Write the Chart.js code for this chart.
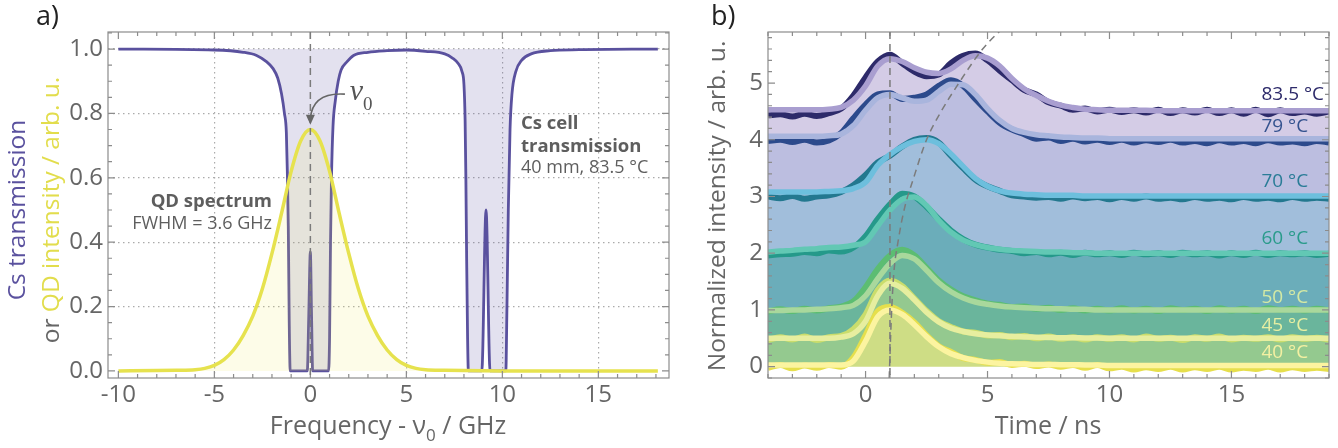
<!DOCTYPE html>
<html>
<head>
<meta charset="utf-8">
<script src="https://cdn.jsdelivr.net/npm/chart.js@4.4.1/dist/chart.umd.min.js"></script>
<style>
  body { margin: 0; background: #fff; width: 1338px; height: 448px; overflow: hidden; }
  #panelA { position: absolute; left: 0; top: 0; }
  #panelB { position: absolute; left: 680px; top: 0; }
</style>
</head>
<body>
<canvas id="panelA" width="680" height="448"></canvas>
<canvas id="panelB" width="658" height="448"></canvas>
<script>
// ---- panel a) : Cs cell transmission and QD spectrum ----
const csFreq = [-10, -5, -3.5, -2.8, -2.27, -1.95, -1.7, -1.5, -1.35, -1.25,
  -1.2, -1.15, -1.1, -1.05, -0.16, -0.08, 0, 0.06, 0.12, 0.95,
  1.0, 1.05, 1.1, 1.18, 1.3, 1.45, 1.6, 1.9, 2.25, 3,
  4, 5, 6, 7, 7.4, 7.7, 7.9, 8.0, 8.06, 8.1,
  8.14, 8.19, 8.23, 8.93, 9.15, 9.36, 10.18, 10.24, 10.31, 10.4,
  10.5, 10.7, 11, 11.5, 12.5, 14, 18.1];
const csTrans = [1.0, 0.997, 0.99, 0.98, 0.96, 0.94, 0.91, 0.86, 0.8, 0.74,
  0.62, 0.45, 0.15, 0, 0, 0.18, 0.37, 0.18, 0, 0,
  0.1, 0.4, 0.6, 0.76, 0.84, 0.9, 0.935, 0.96, 0.98, 0.99,
  0.995, 0.997, 0.993, 0.985, 0.972, 0.955, 0.93, 0.89, 0.78, 0.6,
  0.35, 0.1, 0, 0, 0.5, 0, 0, 0.2, 0.5, 0.75,
  0.86, 0.93, 0.965, 0.985, 0.995, 0.998, 1.0];
const qdFreq = [-10, -8, -7, -6, -5.5, -5, -4.5, -4, -3.5, -3, -2.5, -2, -1.5, -1, -0.5, 0,
  0.5, 1, 1.5, 2, 2.5, 3, 3.5, 4, 4.5, 5, 5.5, 6, 7, 8, 10, 14, 18.1];
const qdIntensity = [0, 0.001, 0.002, 0.004, 0.008, 0.017, 0.035, 0.065, 0.11, 0.17, 0.255, 0.365, 0.49, 0.62, 0.715, 0.75,
  0.715, 0.62, 0.49, 0.365, 0.255, 0.17, 0.11, 0.065, 0.035, 0.017, 0.008, 0.004, 0.002, 0.001, 0, 0, 0];
const freqTicks = [-10, -5, 0, 5, 10, 15];
const transTicks = [0, 0.2, 0.4, 0.6, 0.8, 1.0];
const nu0 = 0;

// ---- panel b) : time traces, offset per cell temperature ----
const timeNs = [-4, -3.5, -3, -2.5, -2, -1.5, -1, -0.5, 0, 0.5, 1, 1.5, 2, 2.5, 3, 3.5,
  4, 4.5, 5, 5.5, 6, 6.5, 7, 7.5, 8, 8.5, 9, 9.5, 10, 10.5, 11, 11.5,
  12, 12.5, 13, 13.5, 14, 14.5, 15, 15.5, 16, 16.5, 17, 17.5, 18, 18.5, 19];
const tempLabels = ['40 °C', '45 °C', '50 °C', '60 °C', '70 °C', '79 °C', '83.5 °C'];

const fit40 = [0.03, 0.03, 0.03, 0.03, 0.03, 0.03, 0.03, 0.1, 0.45, 0.88, 1.0, 0.92, 0.74, 0.53, 0.35, 0.23,
  0.16, 0.11, 0.08, 0.06, 0.05, 0.045, 0.04, 0.04, 0.035, 0.035, 0.03, 0.03, 0.02, 0.02, 0.02, 0.02,
  0.02, 0.02, 0.02, 0.02, 0.02, 0.02, 0.02, 0.02, 0.02, 0.02, 0.02, 0.02, 0.02, 0.02, 0.02];
const fit45 = [0.5, 0.5, 0.5, 0.5, 0.5, 0.5, 0.52, 0.58, 0.8, 1.25, 1.47, 1.38, 1.18, 0.96, 0.79, 0.68,
  0.62, 0.58, 0.56, 0.545, 0.535, 0.525, 0.52, 0.515, 0.51, 0.51, 0.505, 0.505, 0.5, 0.5, 0.5, 0.5,
  0.5, 0.5, 0.5, 0.5, 0.5, 0.5, 0.5, 0.5, 0.5, 0.5, 0.5, 0.5, 0.5, 0.5, 0.5];
const fit50 = [0.99, 0.99, 1.0, 1.0, 1.01, 1.02, 1.04, 1.08, 1.25, 1.55, 1.82, 1.96, 1.9, 1.7, 1.48, 1.32,
  1.21, 1.14, 1.1, 1.07, 1.05, 1.04, 1.03, 1.02, 1.02, 1.01, 1.01, 1.0, 1.0, 1.0, 1.0, 1.0,
  1.0, 1.0, 1.0, 1.0, 1.0, 1.0, 1.0, 1.0, 1.0, 1.0, 1.0, 1.0, 1.0, 1.0, 1.0];
const fit60 = [2.02, 2.04, 2.05, 2.07, 2.08, 2.1, 2.11, 2.14, 2.2, 2.48, 2.76, 2.95, 2.99, 2.84, 2.58, 2.37,
  2.23, 2.15, 2.1, 2.07, 2.05, 2.04, 2.03, 2.02, 2.02, 2.01, 2.01, 2.0, 2.0, 2.0, 2.0, 2.0,
  2.0, 2.0, 2.0, 2.0, 2.0, 2.0, 2.0, 2.0, 2.0, 2.0, 2.0, 2.0, 2.0, 2.0, 2.0];
const fit70 = [3.08, 3.08, 3.08, 3.08, 3.08, 3.09, 3.1, 3.14, 3.25, 3.55, 3.74, 3.88, 3.97, 4.0, 3.93, 3.75,
  3.53, 3.32, 3.18, 3.1, 3.06, 3.04, 3.03, 3.02, 3.02, 3.02, 3.01, 3.01, 3.01, 3.01, 3.01, 3.01,
  3.01, 3.01, 3.01, 3.01, 3.01, 3.01, 3.01, 3.01, 3.01, 3.01, 3.01, 3.01, 3.01, 3.01, 3.01];
const fit79 = [4.06, 4.06, 4.06, 4.06, 4.06, 4.07, 4.1, 4.25, 4.52, 4.74, 4.8, 4.74, 4.68, 4.7, 4.85, 4.98,
  4.97, 4.8, 4.55, 4.34, 4.2, 4.13, 4.09, 4.07, 4.05, 4.04, 4.03, 4.03, 4.02, 4.02, 4.02, 4.02,
  4.02, 4.02, 4.02, 4.02, 4.02, 4.02, 4.02, 4.02, 4.02, 4.02, 4.02, 4.02, 4.02, 4.02, 4.02];
const fit835 = [4.53, 4.53, 4.53, 4.53, 4.53, 4.54, 4.57, 4.7, 4.95, 5.3, 5.43, 5.38, 5.27, 5.19, 5.17, 5.25,
  5.4, 5.48, 5.44, 5.3, 5.08, 4.9, 4.78, 4.68, 4.61, 4.57, 4.54, 4.53, 4.52, 4.52, 4.52, 4.52,
  4.51, 4.51, 4.51, 4.51, 4.51, 4.51, 4.51, 4.51, 4.51, 4.51, 4.51, 4.51, 4.51, 4.51, 4.51];

const data40 = [-0.02, 0.03, -0.03, 0.02, -0.02, 0.03, 0.0, 0.16, 0.55, 0.98, 1.05, 0.95, 0.78, 0.55, 0.36, 0.26,
  0.15, 0.12, 0.07, 0.08, 0.03, 0.05, 0.01, 0.04, 0.0, 0.03, -0.02, 0.03, -0.03, 0.0, -0.05, -0.01,
  -0.04, 0.0, -0.05, -0.01, -0.04, 0.0, -0.05, -0.02, -0.04, 0.0, -0.05, -0.01, -0.04, -0.02, -0.04];
const data45 = [0.47, 0.52, 0.48, 0.53, 0.47, 0.52, 0.54, 0.66, 0.92, 1.35, 1.52, 1.42, 1.2, 0.98, 0.8, 0.7,
  0.62, 0.6, 0.55, 0.56, 0.52, 0.54, 0.5, 0.53, 0.49, 0.52, 0.48, 0.52, 0.49, 0.52, 0.48, 0.53,
  0.49, 0.51, 0.47, 0.52, 0.49, 0.53, 0.48, 0.51, 0.49, 0.52, 0.48, 0.52, 0.49, 0.51, 0.48];
const data50 = [0.97, 1.01, 0.98, 1.02, 0.99, 1.03, 1.06, 1.15, 1.4, 1.72, 1.96, 2.06, 1.96, 1.74, 1.52, 1.36,
  1.24, 1.17, 1.11, 1.09, 1.05, 1.06, 1.02, 1.04, 1.0, 1.03, 0.99, 1.02, 0.99, 1.03, 0.99, 1.02,
  0.98, 1.03, 1.0, 1.02, 0.98, 1.03, 0.99, 1.02, 0.98, 1.03, 1.0, 1.02, 0.99, 1.02, 0.99];
const data60 = [1.96, 1.98, 1.99, 2.02, 2.0, 2.05, 2.03, 2.1, 2.3, 2.6, 2.86, 3.05, 3.0, 2.82, 2.6, 2.4,
  2.25, 2.15, 2.1, 2.06, 2.04, 2.0, 2.02, 1.98, 2.01, 1.97, 2.01, 1.98, 2.0, 1.97, 2.01, 1.98,
  2.0, 1.97, 2.01, 1.98, 2.0, 1.96, 2.0, 1.97, 2.01, 1.97, 2.0, 1.98, 2.0, 1.97, 1.99];
const data70 = [3.0, 2.97, 3.01, 2.96, 3.0, 3.02, 3.08, 3.2, 3.38, 3.6, 3.72, 3.88, 4.0, 4.03, 3.95, 3.72,
  3.5, 3.3, 3.18, 3.1, 3.02, 3.0, 2.98, 2.99, 2.96, 3.0, 2.97, 2.99, 2.95, 2.99, 2.96, 3.0,
  2.96, 2.98, 2.95, 2.99, 2.96, 2.98, 2.95, 2.99, 2.96, 2.98, 2.95, 2.99, 2.96, 2.98, 2.96];
const data79 = [3.98, 4.0, 3.96, 4.0, 3.95, 3.99, 4.12, 4.38, 4.62, 4.8, 4.82, 4.72, 4.74, 4.8, 4.95, 5.05,
  4.95, 4.72, 4.5, 4.3, 4.18, 4.1, 4.02, 4.04, 3.98, 4.02, 3.97, 4.0, 3.96, 4.0, 3.95, 3.99,
  3.96, 4.0, 3.95, 3.98, 3.94, 3.99, 3.95, 3.98, 3.94, 3.99, 3.95, 3.97, 3.94, 3.98, 3.95];
const data835 = [4.43, 4.45, 4.41, 4.46, 4.42, 4.47, 4.55, 4.78, 5.1, 5.38, 5.5, 5.35, 5.2, 5.12, 5.15, 5.35,
  5.48, 5.52, 5.4, 5.22, 5.05, 4.88, 4.8, 4.66, 4.6, 4.53, 4.55, 4.5, 4.53, 4.49, 4.52, 4.48,
  4.53, 4.47, 4.52, 4.48, 4.53, 4.47, 4.52, 4.46, 4.53, 4.45, 4.52, 4.47, 4.5, 4.46, 4.5];

// dashed guide through the shifted maxima
const shiftTime = [0.97, 1.05, 1.15, 1.35, 1.6, 1.95, 2.5, 3.1, 3.75, 4.8, 5.7];
const shiftLevel = [-0.2, 0.8, 1.6, 2.25, 2.8, 3.3, 4.0, 4.5, 4.95, 5.6, 6.0];
const timeTicks = [0, 5, 10, 15];
const intensityTicks = [0, 1, 2, 3, 4, 5];
const pulseTime = 1.0;

const fits = [fit40, fit45, fit50, fit60, fit70, fit79, fit835];
const measured = [data40, data45, data50, data60, data70, data79, data835];

const fitColors = ['#fcf4a0', '#e7ee9f', '#a9d89c', '#62c8b4', '#6dbfdd', '#a9b5dd', '#a99ed0'];
const dataColors = ['#e6df4c', '#cadd6c', '#5cbd72', '#25998a', '#23788f', '#2c4a8c', '#2d2a6a'];
const bandColors = ['#cedd85', '#94c98f', '#6ab59c', '#6badba', '#a1bedb', '#bcbee0', '#d4cce6'];
const labelColors = ['#f4f0a2', '#e6efa2', '#d4e9a4', '#2a9b8b', '#2a7c97', '#35538f', '#2d2a6a'];

Chart.defaults.font.family = "'Open Sans', sans-serif";
Chart.defaults.color = '#666';

const GREY = '#666';
const hidden = 'rgba(0,0,0,0)';

function runsText(ctx, runs, x, y, align) {
  // runs: [text, font, color, dy]
  let w = 0;
  runs.forEach(r => { ctx.font = r[1]; w += ctx.measureText(r[0]).width; });
  let cx = align === 'center' ? x - w / 2 : align === 'right' ? x - w : x;
  ctx.textAlign = 'left';
  runs.forEach(r => {
    ctx.font = r[1]; ctx.fillStyle = r[2];
    ctx.fillText(r[0], cx, y + (r[3] || 0));
    cx += ctx.measureText(r[0]).width;
  });
}

// box frame with inward ticks on all four sides
const frameTicks = {
  id: 'frameTicks',
  afterDatasetsDraw(chart, args, opts) {
    const { ctx, chartArea: a, scales: { x, y } } = chart;
    ctx.save();
    ctx.strokeStyle = '#8c8c8c';
    ctx.lineWidth = 1.2;
    ctx.strokeRect(a.left, a.top, a.right - a.left, a.bottom - a.top);
    ctx.beginPath();
    const walk = (scale, minor, major, fn) => {
      let k = Math.ceil(scale.min / minor - 1e-6);
      for (; k * minor <= scale.max + 1e-9; k++) {
        const v = k * minor;
        const isMajor = Math.abs(v / major - Math.round(v / major)) < 1e-6;
        fn(scale.getPixelForValue(v), isMajor ? 7 : 4);
      }
    };
    walk(x, opts.xMinor, opts.xMajor, (p, l) => {
      ctx.moveTo(p, a.bottom); ctx.lineTo(p, a.bottom - l);
      ctx.moveTo(p, a.top); ctx.lineTo(p, a.top + l);
    });
    walk(y, opts.yMinor, opts.yMajor, (p, l) => {
      ctx.moveTo(a.left, p); ctx.lineTo(a.left + l, p);
      ctx.moveTo(a.right, p); ctx.lineTo(a.right - l, p);
    });
    ctx.stroke();
    ctx.restore();
  }
};

const annotA = {
  id: 'annotA',
  afterDatasetsDraw(chart) {
    const { ctx, chartArea: a, scales: { x, y } } = chart;
    ctx.save();
    // nu0 marker
    ctx.strokeStyle = '#7b7b7b';
    ctx.lineWidth = 1.5;
    ctx.setLineDash([7, 5]);
    ctx.beginPath();
    ctx.moveTo(x.getPixelForValue(nu0), a.top);
    ctx.lineTo(x.getPixelForValue(nu0), a.bottom);
    ctx.stroke();
    ctx.setLineDash([]);
    // curved arrow to the QD maximum
    const x0 = x.getPixelForValue(1.8), y0 = y.getPixelForValue(0.86);
    const x1 = x.getPixelForValue(nu0), y1 = y.getPixelForValue(0.765);
    ctx.strokeStyle = '#666';
    ctx.lineWidth = 1.6;
    ctx.beginPath();
    ctx.moveTo(x0, y0);
    ctx.quadraticCurveTo(x1 + 2, y0 - 2, x1, y1 - 6);
    ctx.stroke();
    ctx.fillStyle = '#666';
    ctx.beginPath();
    ctx.moveTo(x1, y1);
    ctx.lineTo(x1 - 4.5, y1 - 10);
    ctx.lineTo(x1 + 4.5, y1 - 10);
    ctx.closePath();
    ctx.fill();
    ctx.textBaseline = 'alphabetic';
    runsText(ctx, [['\u03bd', "italic 30px 'Liberation Serif'", '#555'],
                   ['0', "19px 'Liberation Serif'", '#555', 10]],
             x.getPixelForValue(2.05), y.getPixelForValue(0.842), 'left');
    // text labels
    const tx = x.getPixelForValue(-2.0);
    runsText(ctx, [['QD spectrum', "bold 18.5px 'Open Sans'", '#5e5e5e']], tx, y.getPixelForValue(0.51), 'right');
    runsText(ctx, [['FWHM = 3.6 GHz', "18px 'Open Sans'", '#5e5e5e']], tx, y.getPixelForValue(0.44), 'right');
    const cx = x.getPixelForValue(10.97);
    runsText(ctx, [['Cs cell', "bold 18.5px 'Open Sans'", '#5e5e5e']], cx, y.getPixelForValue(0.752), 'left');
    runsText(ctx, [['transmission', "bold 18.5px 'Open Sans'", '#5e5e5e']], cx, y.getPixelForValue(0.681), 'left');
    runsText(ctx, [['40 mm, 83.5 °C', "18px 'Open Sans'", '#5e5e5e']], cx, y.getPixelForValue(0.614), 'left');
    ctx.restore();
  },
  afterDraw(chart) {
    const { ctx } = chart;
    ctx.save();
    ctx.textBaseline = 'alphabetic';
    runsText(ctx, [['a)', "27px 'Open Sans'", '#222']], 36, 25, 'left');
    runsText(ctx, [['Frequency - \u03bd', "25px 'Open Sans'", GREY],
                   ['0', "17px 'Open Sans'", GREY, 7],
                   [' / GHz', "25px 'Open Sans'", GREY]], 388, 434, 'center');
    ctx.save();
    ctx.translate(18, 210); ctx.rotate(-Math.PI / 2);
    ctx.textBaseline = 'middle';
    runsText(ctx, [['Cs transmission', "24.5px 'Open Sans'", '#5a519e']], 0, 0, 'center');
    ctx.restore();
    ctx.save();
    ctx.translate(52, 210); ctx.rotate(-Math.PI / 2);
    ctx.textBaseline = 'middle';
    runsText(ctx, [['or ', "24.5px 'Open Sans'", GREY],
                   ['QD intensity / arb. u.', "24.5px 'Open Sans'", '#e2dd4c']], 0, 0, 'center');
    ctx.restore();
    ctx.restore();
  }
};

const annotB = {
  id: 'annotB',
  afterDatasetsDraw(chart) {
    const { ctx, chartArea: a, scales: { x, y } } = chart;
    ctx.save();
    ctx.strokeStyle = '#7b7b7b';
    ctx.lineWidth = 1.5;
    ctx.setLineDash([7, 5]);
    ctx.beginPath();
    ctx.moveTo(x.getPixelForValue(pulseTime), a.top);
    ctx.lineTo(x.getPixelForValue(pulseTime), a.bottom);
    ctx.stroke();
    ctx.setLineDash([]);
    ctx.textBaseline = 'middle';
    const levels = [0.24, 0.72, 1.22, 2.26, 3.26, 4.23, 4.79];
    tempLabels.forEach((t, i) => {
      runsText(ctx, [[t, "19px 'Open Sans'", labelColors[i]]],
               x.getPixelForValue(16.23), y.getPixelForValue(levels[i]), 'left');
    });
    ctx.restore();
  },
  afterDraw(chart) {
    const { ctx } = chart;
    ctx.save();
    ctx.textBaseline = 'alphabetic';
    runsText(ctx, [['b)', "27px 'Open Sans'", '#222']], 31, 25, 'left');
    runsText(ctx, [['Time / ns', "25px 'Open Sans'", GREY]], 368, 434, 'center');
    ctx.translate(38, 206); ctx.rotate(-Math.PI / 2);
    ctx.textBaseline = 'middle';
    runsText(ctx, [['Normalized intensity / arb. u.', "24.5px 'Open Sans'", GREY]], 0, 0, 'center');
    ctx.restore();
  }
};

const tickFont = { size: 24 };

new Chart(document.getElementById('panelA'), {
  type: 'line',
  data: {
    datasets: [{
      label: 'QD spectrum',
      data: qdFreq.map((f, i) => ({ x: f, y: qdIntensity[i] })),
      borderColor: '#e6e24e',
      borderWidth: 3.5,
      backgroundColor: 'rgba(240,232,90,0.14)',
      fill: 'origin'
    }, {
      label: 'Cs transmission',
      data: csFreq.map((f, i) => ({ x: f, y: csTrans[i] })),
      borderColor: '#5a519e',
      borderWidth: 2.8,
      backgroundColor: 'rgba(88,80,160,0.17)',
      fill: { value: 1 }
    }]
  },
  options: {
    responsive: false,
    animation: false,
    events: [],
    layout: { padding: { left: 0, right: 11, top: 32, bottom: 0 } },
    elements: { point: { radius: 0 }, line: { cubicInterpolationMode: 'monotone' } },
    plugins: {
      legend: { display: false },
      tooltip: { enabled: false },
      frameTicks: { xMinor: 1, xMajor: 5, yMinor: 0.05, yMajor: 0.2 }
    },
    scales: {
      x: {
        type: 'linear', min: -10.54, max: 18.68,
        afterBuildTicks: s => { s.ticks = freqTicks.map(v => ({ value: v })); },
        afterFit: s => { s.height = 70; },
        grid: {
          drawTicks: false, lineWidth: 1.2,
          color: c => (c.tick && (c.tick.value === -10 || c.tick.value === nu0)) ? hidden : '#ababab'
        },
        border: { display: false, dash: [1.5, 3.5] },
        ticks: { padding: 3, font: tickFont, color: GREY, maxRotation: 0, autoSkip: false, callback: v => String(v) }
      },
      y: {
        min: -0.022, max: 1.053,
        afterBuildTicks: s => { s.ticks = transTicks.map(v => ({ value: v })); },
        afterFit: s => { s.width = 108; },
        grid: {
          drawTicks: false, lineWidth: 1.2,
          color: c => (c.tick && c.tick.value === 0) ? hidden : '#ababab'
        },
        border: { display: false, dash: [1.5, 3.5] },
        ticks: { padding: 5, font: tickFont, color: GREY, callback: v => v.toFixed(1) }
      }
    }
  },
  plugins: [frameTicks, annotA]
});

// panel b datasets: fits 0..6, measured 7..13, guide 14
const dsB = [];
fits.forEach((f, i) => {
  dsB.push({
    label: 'fit ' + tempLabels[i],
    data: timeNs.map((t, k) => ({ x: t, y: f[k] })),
    borderColor: fitColors[i],
    borderWidth: 5.5,
    backgroundColor: bandColors[i],
    fill: i === 0 ? 'origin' : i - 1,
    order: 1
  });
});
measured.forEach((d, i) => {
  dsB.push({
    label: tempLabels[i],
    data: timeNs.map((t, k) => ({ x: t, y: d[k] })),
    borderColor: dataColors[i],
    borderWidth: 6,
    fill: false,
    order: 2
  });
});
dsB.push({
  label: 'maximum shift',
  data: shiftTime.map((t, k) => ({ x: t, y: shiftLevel[k] })),
  borderColor: '#7b7b7b',
  borderWidth: 1.5,
  borderDash: [7, 5],
  fill: false,
  order: 0
});

new Chart(document.getElementById('panelB'), {
  type: 'line',
  data: { datasets: dsB },
  options: {
    responsive: false,
    animation: false,
    events: [],
    layout: { padding: { left: 0, right: 9, top: 32, bottom: 0 } },
    elements: { point: { radius: 0 }, line: { cubicInterpolationMode: 'monotone' } },
    plugins: {
      legend: { display: false },
      tooltip: { enabled: false },
      filler: { drawTime: 'beforeDatasetsDraw' },
      frameTicks: { xMinor: 1, xMajor: 5, yMinor: 0.2, yMajor: 1 }
    },
    scales: {
      x: {
        type: 'linear', min: -4, max: 19,
        afterBuildTicks: s => { s.ticks = timeTicks.map(v => ({ value: v })); },
        afterFit: s => { s.height = 70; },
        grid: { display: false, drawTicks: false },
        border: { display: false },
        ticks: { padding: 3, font: tickFont, color: GREY, maxRotation: 0, autoSkip: false, callback: v => String(v) }
      },
      y: {
        min: -0.2, max: 5.9,
        afterBuildTicks: s => { s.ticks = intensityTicks.map(v => ({ value: v })); },
        afterFit: s => { s.width = 88; },
        grid: { display: false, drawTicks: false },
        border: { display: false },
        ticks: { padding: 5, font: tickFont, color: GREY, callback: v => String(v) }
      }
    }
  },
  plugins: [frameTicks, annotB]
});
</script>
</body>
</html>
